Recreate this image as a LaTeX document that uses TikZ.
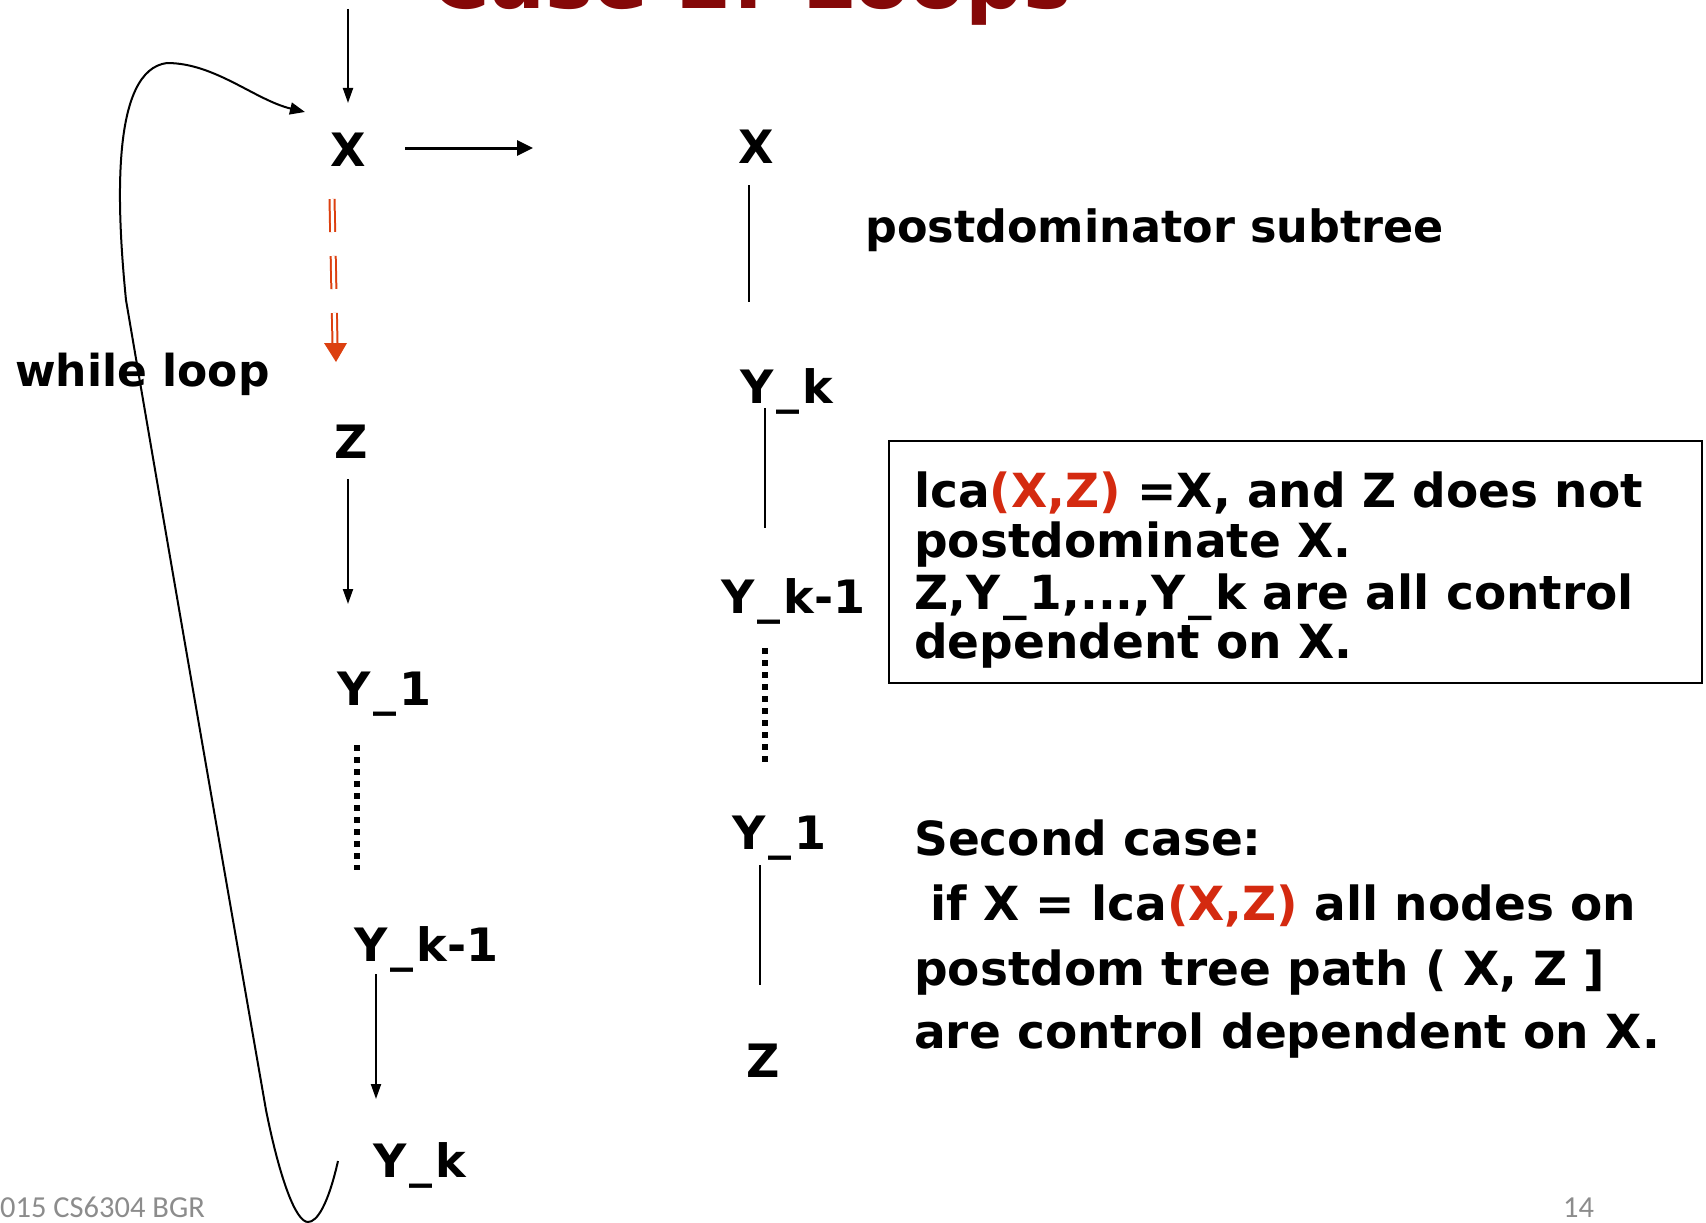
\documentclass[tikz,border=0pt]{standalone}
\usepackage{fontspec}
\setmainfont{DejaVu Sans}
\newfontfamily\footfont{Carlito}
\usetikzlibrary{arrows.meta}
\definecolor{titlered}{HTML}{850808}
\definecolor{lcared}{HTML}{D42A10}
\definecolor{dashred}{HTML}{DC4010}
\definecolor{footgray}{HTML}{8C8C8C}
\newcommand\us{\kern3pt\_\kern3pt}
\begin{document}
\begin{tikzpicture}[x=1pt,y=-1pt,
  lbl/.style={anchor=base west, inner sep=0pt, font=\bfseries\fontsize{46}{50}\selectfont},
  txt/.style={anchor=base west, inner sep=0pt, font=\bfseries\fontsize{47}{50}\selectfont},
  conn/.style={line width=2pt},
  arr/.style={line width=2pt, -{Triangle[length=15pt,width=10pt]}},
  dots/.style={line width=6pt, dash pattern=on 6pt off 6pt},
  foot/.style={inner sep=0pt, text=footgray, font=\footfont\fontsize{30.5}{33}\selectfont},
]
\useasboundingbox (0,0) rectangle (1706,1223);

% title (cut off at top)
\node[anchor=base east, inner sep=0pt, text=titlered, font=\bfseries\fontsize{81}{86}\selectfont] (title) at (1072,9) {Case 2: Loops};

% left column
\node[lbl] (xl) at (330,166) {X};
\node[lbl] (zl) at (334,458) {Z};
\node[lbl, font=\bfseries\fontsize{44}{48}\selectfont] (wl) at (15,386) {while loop};
\node[lbl] (y1l) at (337,705) {Y\us 1};
\node[lbl] (ykm1l) at (354,961) {Y\us k-1};
\node[lbl] (ykl) at (373,1177) {Y\us k};

% right column
\node[lbl] (xr) at (738,163) {X};
\node[lbl] (ykr) at (740,403) {Y\us k};
\node[lbl] (ykm1r) at (721,613) {Y\us k-1};
\node[lbl] (y1r) at (732,849) {Y\us 1};
\node[lbl] (zr) at (746,1077) {Z};
\node[lbl, font=\bfseries\fontsize{44.5}{48}\selectfont] (pst) at (865,242) {postdominator subtree};

% box
\node[draw, line width=2pt, inner sep=0pt, anchor=north west, minimum width=813pt, minimum height=242pt] (box) at (888,440) {};
\node[txt] (b1) at (914,507) {lca{\color{lcared}(X,Z)} =X, and Z does not};
\node[txt] (b2) at (914,557) {postdominate X.};
\node[txt] (b3) at (914,609) {Z,Y\us 1,...,Y\us k are all control};
\node[txt] (b4) at (914,658) {dependent on X.};

% second case
\node[txt] (s1) at (914,855) {Second case:};
\node[txt] (s2) at (930,920) {if X = lca{\color{lcared}(X,Z)} all nodes on};
\node[txt] (s3) at (914,985) {postdom tree path ( X, Z ]};
\node[txt] (s4) at (914,1048) {are control dependent on X.};

% footer
\node[foot, anchor=base west] (fl) at (0,1217) {015 CS6304 BGR};
\node[foot, anchor=base west] (fr) at (1563,1217) {14};

% connectors (free ends as named coordinates)
\coordinate (a1s) at (348,9);   \coordinate (a1e) at (348,103);
\coordinate (a2s) at (405,148); \coordinate (a2e) at (533,148);
\coordinate (a3s) at (348,479); \coordinate (a3e) at (348,604);
\coordinate (a4s) at (376,974); \coordinate (a4e) at (376,1099);
\coordinate (dls) at (357,745); \coordinate (dle) at (357,870);
\coordinate (r1s) at (749,185); \coordinate (r1e) at (749,302);
\coordinate (r2s) at (765,408); \coordinate (r2e) at (765,528);
\coordinate (drs) at (765,648); \coordinate (dre) at (765,762);
\coordinate (r3s) at (760,865); \coordinate (r3e) at (760,985);
\coordinate (rds) at (332,199); \coordinate (rde) at (335,343);
\coordinate (lps) at (338,1161); \coordinate (lpe) at (305,112);

\draw[arr] (a1s) -- (a1e);
\draw[line width=3pt, -{Triangle[length=16pt,width=15pt]}] (a2s) -- (a2e);
\draw[arr] (a3s) -- (a3e);
\draw[arr] (a4s) -- (a4e);
\draw[dots] (dls) -- (dle);
\draw[conn] (r1s) -- (r1e);
\draw[conn] (r2s) -- (r2e);
\draw[dots] (drs) -- (dre);
\draw[conn] (r3s) -- (r3e);

% red dashed double arrow
\draw[dashred, double=white, double distance=3pt, line width=2pt, dash pattern=on 33pt off 24pt] (rds) -- (rde);
\fill[dashred] (324,343) -- (347,343) -- (336,362) -- cycle;

% loop back edge
\draw[line width=2pt, -{Triangle[length=15pt,width=12pt]}] (lps)
  .. controls (328,1205) and (317,1222) .. (308,1222)
  .. controls (296,1222) and (280,1180) .. (266,1110)
  .. controls (219,840) and (172,570) .. (126,300)
  .. controls (116,200) and (112,70) .. (167,63)
  .. controls (215,63) and (255,100) .. (lpe);
\end{tikzpicture}
\end{document}
